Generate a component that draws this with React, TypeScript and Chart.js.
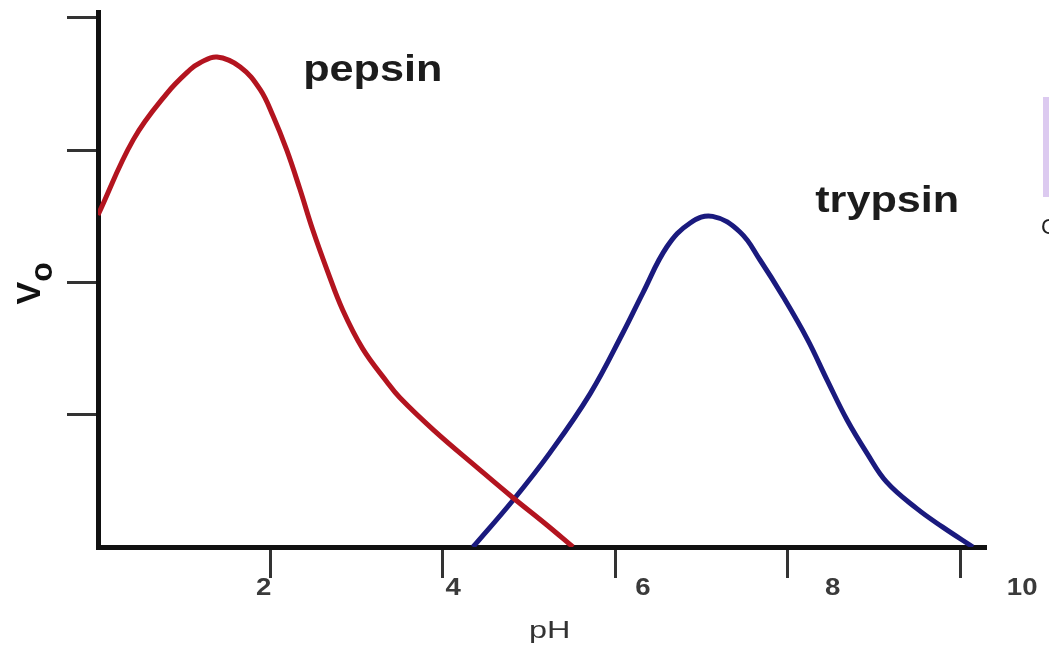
import React, { useEffect, useRef } from "react";
import { Chart, registerables } from "chart.js";

Chart.register(...registerables);

// Initial velocity (Vo) of two proteases across the pH range
const PEPSIN_PH = [0, 0.41, 0.8, 1.07, 1.18, 1.38, 1.65, 1.88, 2.03, 2.19, 2.34, 2.49, 2.66, 2.84, 3.07, 3.35, 3.5, 3.9, 4.4, 4.8, 5.2, 5.51];
const PEPSIN_V = [2.51, 3.08, 3.43, 3.61, 3.66, 3.705, 3.63, 3.46, 3.26, 3.0, 2.71, 2.4, 2.09, 1.79, 1.5, 1.25, 1.13, 0.88, 0.6, 0.38, 0.17, 0.0];

const TRYPSIN_PH = [4.35, 4.81, 5.24, 5.71, 6.09, 6.32, 6.6, 6.87, 7.13, 7.45, 7.68, 7.95, 8.23, 8.46, 8.69, 8.92, 9.15, 9.5, 9.8, 10.15];
const TRYPSIN_V = [0.0, 0.35, 0.71, 1.16, 1.62, 1.92, 2.27, 2.45, 2.5, 2.38, 2.17, 1.89, 1.57, 1.26, 0.96, 0.71, 0.49, 0.29, 0.15, 0.0];

const PH_TICKS = [2, 4, 6, 8, 10];
const PH_TICK_LABELS = ["2", "4", "6", "8", "10"];
const V_TICKS = [1, 2, 3, 4];

const X_TITLE = "pH";
const Y_TITLE_MAIN = "V";
const Y_TITLE_SUB = "o";

// Curve names, anchored at (pH, Vo) near each curve
const CURVE_NAMES = ["pepsin", "trypsin"];
const CURVE_NAME_PH = [2.38, 8.32];
const CURVE_NAME_V = [3.52, 2.53];

const PEPSIN_COLOR = "#b3141f";
const TRYPSIN_COLOR = "#1a1a7e";

const toPoints = (xs: number[], ys: number[]) => xs.map((x, i) => ({ x, y: ys[i] }));

const textPlugin = {
  id: "phText",
  afterDraw(chart: any) {
    const { ctx, chartArea } = chart;
    const xs = chart.scales.x;
    const ys = chart.scales.y;
    ctx.save();

    // tick numbers: set on a slightly wider spacing than the tick marks
    ctx.fillStyle = "#3a3a3a";
    ctx.font = 'bold 24px "Liberation Sans", Arial, sans-serif';
    ctx.textAlign = "center";
    ctx.textBaseline = "middle";
    PH_TICKS.forEach((v, i) => {
      const px = chartArea.left + (xs.getPixelForValue(v) - chartArea.left) * 1.1 - 24;
      ctx.save();
      ctx.translate(px, xs.top + 41);
      ctx.scale(1.15, 1);
      ctx.fillText(PH_TICK_LABELS[i], 0, 0);
      ctx.restore();
    });

    // x axis title
    ctx.save();
    ctx.font = '24px "Liberation Sans", Arial, sans-serif';
    ctx.fillStyle = "#333";
    ctx.translate(xs.getPixelForValue(5.24), xs.top + 84);
    ctx.scale(1.35, 1);
    ctx.fillText(X_TITLE, 0, 0);
    ctx.restore();

    // curve names
    ctx.fillStyle = "#1c1c1c";
    ctx.font = 'bold 36px "Liberation Sans", Arial, sans-serif';
    ctx.textAlign = "left";
    ctx.textBaseline = "alphabetic";
    CURVE_NAMES.forEach((name, i) => {
      ctx.save();
      ctx.translate(xs.getPixelForValue(CURVE_NAME_PH[i]), ys.getPixelForValue(CURVE_NAME_V[i]));
      ctx.scale(1.2, 1);
      ctx.fillText(name, 0, 0);
      ctx.restore();
    });

    // y axis title: V with subscript o, reading upward
    ctx.save();
    ctx.fillStyle = "#111";
    ctx.font = 'bold 34px "Liberation Sans", Arial, sans-serif';
    ctx.translate(40, (ys.top + ys.bottom) / 2 + 25);
    ctx.rotate(-Math.PI / 2);
    ctx.fillText(Y_TITLE_MAIN, 0, 0);
    const vw = ctx.measureText(Y_TITLE_MAIN).width;
    ctx.font = 'bold 32px "Liberation Sans", Arial, sans-serif';
    ctx.fillText(Y_TITLE_SUB, vw, 12);
    ctx.restore();

    // edge of a neighbouring panel on the right
    ctx.fillStyle = "#dccaf0";
    ctx.fillRect(chart.width - 6, 97, 6, 100);
    ctx.fillStyle = "#222";
    ctx.font = '22px "Liberation Sans", Arial, sans-serif';
    ctx.textBaseline = "middle";
    ctx.fillText("C", chart.width - 8, 228);

    ctx.restore();
  },
};

export default function App() {
  const canvasRef = useRef<HTMLCanvasElement | null>(null);

  useEffect(() => {
    if (!canvasRef.current) return;
    const chart = new Chart(canvasRef.current, {
      type: "line",
      data: {
        datasets: [
          {
            label: "pepsin",
            data: toPoints(PEPSIN_PH, PEPSIN_V),
            borderColor: PEPSIN_COLOR,
            borderWidth: 5,
            pointRadius: 0,
            tension: 0.4,
            fill: false,
          },
          {
            label: "trypsin",
            data: toPoints(TRYPSIN_PH, TRYPSIN_V),
            borderColor: TRYPSIN_COLOR,
            borderWidth: 5,
            pointRadius: 0,
            tension: 0.4,
            fill: false,
          },
        ],
      },
      options: {
        animation: false,
        responsive: false,
        layout: { padding: { top: 12, right: 64, left: 0, bottom: 0 } },
        plugins: { legend: { display: false }, tooltip: { enabled: false } },
        scales: {
          x: {
            type: "linear",
            min: 0,
            max: 10.29,
            border: { display: true, color: "#111", width: 5 },
            grid: {
              drawOnChartArea: false,
              drawTicks: true,
              tickLength: 31,
              color: "#333",
              lineWidth: 3,
            },
            ticks: { display: false },
            afterBuildTicks: (s: any) => {
              s.ticks = PH_TICKS.map((value) => ({ value }));
            },
            afterFit: (s: any) => {
              s.height = 99;
            },
          },
          y: {
            type: "linear",
            min: 0,
            max: 4.045,
            border: { display: true, color: "#111", width: 5 },
            grid: {
              drawOnChartArea: false,
              drawTicks: true,
              tickLength: 31,
              color: "#333",
              lineWidth: 3,
            },
            ticks: { display: false },
            afterBuildTicks: (s: any) => {
              s.ticks = V_TICKS.map((value) => ({ value }));
            },
            afterFit: (s: any) => {
              s.width = 98;
            },
          },
        },
      },
      plugins: [textPlugin],
    });
    return () => chart.destroy();
  }, []);

  return (
    <div style={{ position: "absolute", left: 0, top: 0, width: 1049, height: 646, background: "#fff" }}>
      <canvas ref={canvasRef} width={1049} height={646} />
    </div>
  );
}
